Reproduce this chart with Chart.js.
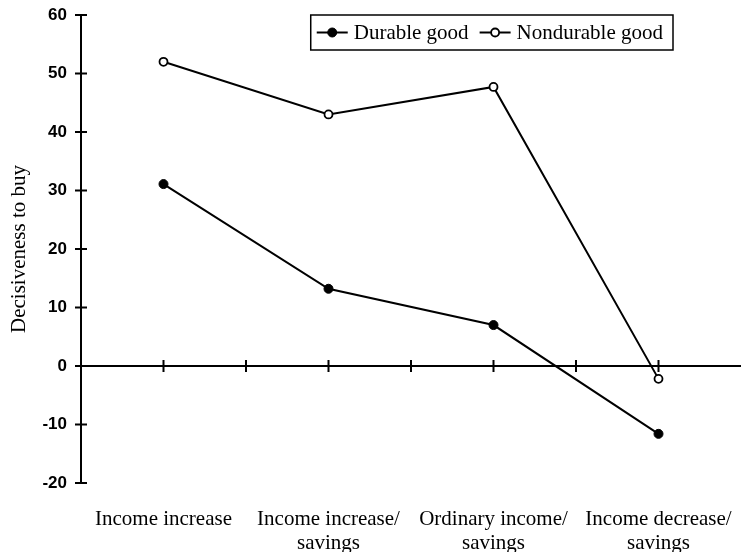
<!DOCTYPE html>
<html>
<head>
<meta charset="utf-8">
<script src="https://cdn.jsdelivr.net/npm/chart.js@4"></script>
<style>
  html, body { margin: 0; padding: 0; background: #fff; }
</style>
</head>
<body>
<canvas id="linechart" width="741" height="552"></canvas>
<script>
const categories = [
  'Income increase',
  ['Income increase/', 'savings'],
  ['Ordinary income/', 'savings'],
  ['Income decrease/', 'savings']
];
const durable = [31.1, 13.2, 7.0, -11.6];
const nondurable = [52.0, 43.0, 47.7, -2.2];
const yTicks = [-20, -10, 0, 10, 20, 30, 40, 50, 60];

const serif = "'Liberation Serif', 'Times New Roman', serif";
const sans = "'Liberation Sans', Arial, sans-serif";

// tick marks that cross the axes (both sides), like the printed figure
const axisMarks = {
  id: 'axisMarks',
  afterDatasetsDraw(chart) {
    const { ctx, scales: { x, y } } = chart;
    const y0 = y.getPixelForValue(0);
    ctx.save();
    ctx.strokeStyle = '#000';
    ctx.lineWidth = 2;
    ctx.beginPath();
    yTicks.forEach(v => {
      const py = y.getPixelForValue(v);
      ctx.moveTo(x.left - 6, py);
      ctx.lineTo(x.left + 6, py);
    });
    for (let i = 0; i < categories.length; i++) {
      const px = x.getPixelForValue(i);
      ctx.moveTo(px, y0 - 6);
      ctx.lineTo(px, y0 + 6);
      if (i < categories.length - 1) {
        const mid = (px + x.getPixelForValue(i + 1)) / 2;
        ctx.moveTo(mid, y0 - 6);
        ctx.lineTo(mid, y0 + 6);
      }
    }
    ctx.stroke();
    ctx.restore();
  }
};

// boxed legend inside the plot, top right
const boxLegend = {
  id: 'boxLegend',
  afterDraw(chart) {
    const { ctx, chartArea } = chart;
    const sets = chart.data.datasets;
    ctx.save();
    ctx.font = '21px ' + serif;
    const padL = 6, padR = 10, sample = 31, gap = 6, itemGap = 11;
    let w = padL + padR;
    sets.forEach((ds, i) => {
      w += sample + gap + ctx.measureText(ds.label).width;
      if (i < sets.length - 1) w += itemGap;
    });
    const h = 35;
    const right = chartArea.right - 68;
    const left = right - w;
    const top = chartArea.top;
    ctx.fillStyle = '#fff';
    ctx.fillRect(left, top, w, h);
    ctx.strokeStyle = '#000';
    ctx.lineWidth = 1.5;
    ctx.strokeRect(left, top, w, h);
    const cy = top + h / 2;
    let cx = left + padL;
    sets.forEach(ds => {
      ctx.beginPath();
      ctx.lineWidth = 2;
      ctx.moveTo(cx, cy);
      ctx.lineTo(cx + sample, cy);
      ctx.stroke();
      ctx.beginPath();
      ctx.arc(cx + sample / 2, cy, ds.pointRadius, 0, Math.PI * 2);
      ctx.fillStyle = ds.pointBackgroundColor;
      ctx.fill();
      ctx.lineWidth = ds.pointBorderWidth;
      ctx.stroke();
      cx += sample + gap;
      ctx.fillStyle = '#000';
      ctx.textBaseline = 'middle';
      ctx.fillText(ds.label, cx, cy + 1);
      cx += ctx.measureText(ds.label).width + itemGap;
    });
    ctx.restore();
  }
};

new Chart(document.getElementById('linechart'), {
  type: 'line',
  data: {
    labels: categories,
    datasets: [
      {
        label: 'Durable good',
        data: durable,
        borderColor: '#000',
        borderWidth: 2,
        pointRadius: 4.5,
        pointBackgroundColor: '#000',
        pointBorderColor: '#000',
        pointBorderWidth: 1,
        tension: 0,
        clip: false
      },
      {
        label: 'Nondurable good',
        data: nondurable,
        borderColor: '#000',
        borderWidth: 2,
        pointRadius: 4,
        pointBackgroundColor: '#fff',
        pointBorderColor: '#000',
        pointBorderWidth: 1.8,
        tension: 0,
        clip: false
      }
    ]
  },
  options: {
    responsive: false,
    animation: false,
    layout: { autoPadding: false, padding: { top: 15, left: 0, right: 0, bottom: 0 } },
    plugins: {
      legend: { display: false },
      tooltip: { enabled: false }
    },
    scales: {
      x: {
        offset: true,
        grid: { display: false, drawTicks: false },
        border: { display: false },
        afterFit: s => {
          s.height = 69;
          s.paddingLeft = 0;
          s.paddingRight = 0;
        },
        ticks: {
          color: '#000',
          padding: 24,
          autoSkip: false,
          maxRotation: 0,
          font: { family: serif, size: 21, lineHeight: 1.15 }
        }
      },
      y: {
        min: -20,
        max: 60,
        afterFit: s => {
          s.width = 81;
          s.paddingTop = 0;
          s.paddingBottom = 0;
        },
        grid: {
          drawTicks: false,
          lineWidth: 2,
          color: c => (c.tick && c.tick.value === 0 ? '#000' : 'rgba(0,0,0,0)')
        },
        border: { display: true, color: '#000', width: 2 },
        ticks: {
          stepSize: 10,
          color: '#000',
          padding: 14,
          font: { family: sans, size: 17, weight: 'bold' }
        },
        title: {
          display: true,
          text: 'Decisiveness to buy',
          color: '#000',
          padding: { top: 7, bottom: 0 },
          font: { family: serif, size: 21 }
        }
      }
    }
  },
  plugins: [axisMarks, boxLegend]
});
</script>
</body>
</html>
